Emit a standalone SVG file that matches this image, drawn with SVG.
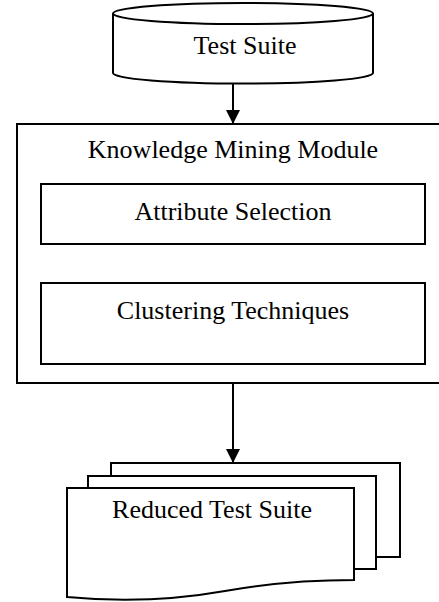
<svg xmlns="http://www.w3.org/2000/svg" width="439" height="602" viewBox="0 0 439 602">
<defs>
<style>
.s{fill:#fff;stroke:#000;stroke-width:2}
.t{font-family:"Liberation Serif","Times New Roman",serif;font-size:26px;fill:#000;text-anchor:middle}
.c{fill:none;stroke:#000;stroke-width:2}
</style>
<marker id="ah" viewBox="0 0 14 14" markerWidth="14" markerHeight="14" refX="14" refY="7" orient="auto" markerUnits="userSpaceOnUse">
<path d="M0,0 L14,7 L0,14 Z" fill="#000"/>
</marker>
</defs>
<rect width="439" height="602" fill="#fff"/>
<g id="test-suite">
<path class="s" d="M113,13.5 V73 A130,10.5 0 0 0 373,73 V13.5"/>
<ellipse class="s" cx="243" cy="13.5" rx="130" ry="10.5"/>
<text class="t" x="245" y="54">Test Suite</text>
</g>
<g id="knowledge-mining-module">
<rect class="s" x="17" y="124" width="432" height="259"/>
<text class="t" x="233" y="158">Knowledge Mining Module</text>
</g>
<g id="attribute-selection">
<rect class="s" x="41" y="184" width="384" height="60"/>
<text class="t" x="233" y="220">Attribute Selection</text>
</g>
<g id="clustering-techniques">
<rect class="s" x="41" y="283" width="384" height="81"/>
<text class="t" x="233" y="319">Clustering Techniques</text>
</g>
<g id="reduced-test-suite">
<path class="s" d="M111,476 V463 H400 V557 H376"/>
<path class="s" d="M88,488 V476 H376 V569 H354"/>
<path class="s" d="M67,488 H354 V580 C310,580 270,583 225,591 C180,599 130,603 67,597 Z"/>
<text class="t" x="212" y="518">Reduced Test Suite</text>
</g>
<g id="connectors">
<line class="c" x1="233" y1="84" x2="233" y2="124" marker-end="url(#ah)"/>
<line class="c" x1="233" y1="383" x2="233" y2="463" marker-end="url(#ah)"/>
</g>
</svg>
